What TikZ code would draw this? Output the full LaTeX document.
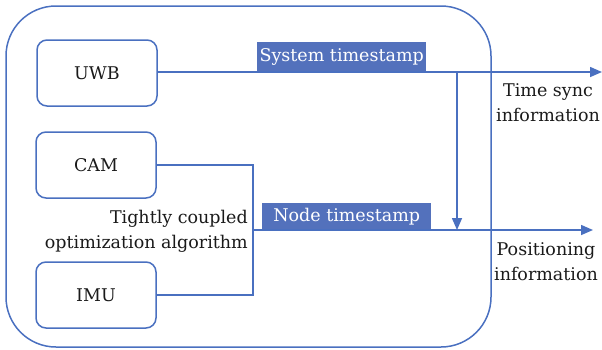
\documentclass[tikz,border=0pt]{standalone}
\usepackage{fontspec}
\setmainfont{DejaVu Serif}
\newfontfamily\labelface{DejaVu Serif}
\usetikzlibrary{arrows.meta}
\definecolor{lineblue}{HTML}{4A70C0}
\definecolor{tagblue}{HTML}{5371BC}
\definecolor{ink}{HTML}{1A1A1A}
\tikzset{
  wire/.style={draw=lineblue, line width=1.5pt},
  arrowwire/.style={wire, -{Triangle[length=12pt,width=10pt]}},
  sensor/.style={draw=lineblue, line width=1.5pt, rounded corners=10pt,
    minimum width=120pt, minimum height=66pt, text=ink, inner sep=0pt},
  tag/.style={fill=tagblue, text=white, inner sep=0pt},
  caption/.style={text=ink, align=center, inner sep=0pt},
}
\begin{document}
\begin{tikzpicture}[x=1pt,y=-1pt,font=\labelface\fontsize{17.5}{25}\selectfont]
\useasboundingbox (0,0) rectangle (602,349);

% enclosing unit
\draw[wire, rounded corners=50pt] (6,6) rectangle (491,347);

% sensors
\node[sensor] (uwb) at (97,73) {UWB};
\node[sensor] (cam) at (96,165) {CAM};
\node[sensor] (imu) at (96,295) {IMU};

% routing points
\coordinate (fuse) at (253,230);
\coordinate (camcorner) at (253,165);
\coordinate (imucorner) at (253,295);
\coordinate (tsync) at (602,72);
\coordinate (posout) at (593,230);
\coordinate (tap) at (457,72);
\coordinate (tapend) at (457,230);

% timestamp tags
\node[tag, minimum width=169pt, minimum height=30pt, anchor=south west] (systs) at (257,72) {System timestamp};
\node[tag, minimum width=169pt, minimum height=27pt, anchor=south west] (nodets) at (262,230) {Node timestamp};

% connections
\draw[arrowwire] (uwb.east |- tsync) -- (tsync);
\draw[wire] (cam.east) -- (camcorner) -- (imucorner) -- (imu.east);
\draw[arrowwire] (fuse) -- (posout);
\draw[arrowwire] (tap) -- (tapend);

% captions
\node[caption] (synclbl) at (548,103) {Time sync\\information};
\node[caption] (poslbl) at (546,262) {Positioning\\information};
\node[caption, align=right, anchor=east] (fuselbl) at (248,231) {Tightly coupled\\optimization algorithm};
\end{tikzpicture}
\end{document}
